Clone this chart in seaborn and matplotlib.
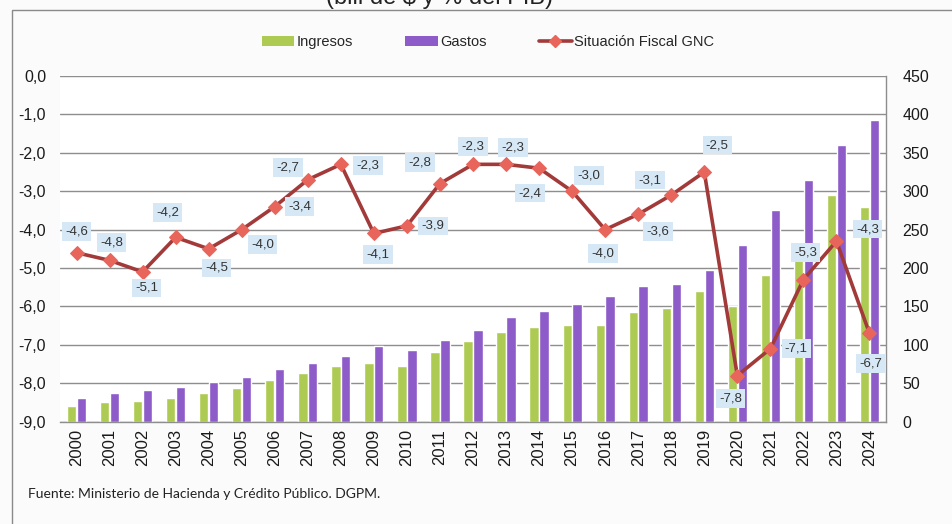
import numpy as np
import pandas as pd
import matplotlib
matplotlib.use("Agg")
import matplotlib.pyplot as plt
import seaborn as sns
from matplotlib import font_manager
from matplotlib.lines import Line2D
from matplotlib.patches import Patch, Rectangle

# ---------------- data ----------------
years = ["2000", "2001", "2002", "2003", "2004", "2005", "2006", "2007", "2008",
         "2009", "2010", "2011", "2012", "2013", "2014", "2015", "2016", "2017",
         "2018", "2019", "2020", "2021", "2022", "2023", "2024"]
ingresos = [21, 25, 27, 31, 37, 44, 54, 63, 73, 76, 73, 91, 105, 117, 123, 126,
            126, 143, 148, 170, 150, 191, 210, 295, 280]
gastos = [31, 38, 41, 45, 52, 58, 68, 76, 86, 98, 93, 106, 119, 136, 144, 153,
          163, 177, 179, 197, 230, 275, 314, 360, 393]
situacion = [-4.6, -4.8, -5.1, -4.2, -4.5, -4.0, -3.4, -2.7, -2.3, -4.1, -3.9,
             -2.8, -2.3, -2.3, -2.4, -3.0, -4.0, -3.6, -3.1, -2.5, -7.8, -7.1,
             -5.3, -4.3, -6.7]
left_ticks = [0.0, -1.0, -2.0, -3.0, -4.0, -5.0, -6.0, -7.0, -8.0, -9.0]
right_ticks = [0, 50, 100, 150, 200, 250, 300, 350, 400, 450]
series_names = ["Ingresos", "Gastos", "Situación Fiscal GNC"]
title = "(bill de $ y % del PIB)"
source = "Fuente: Ministerio de Hacienda y Crédito Público. DGPM."

# label placement (pixel offsets from each point, screen y downward)
label_offsets = [(0, -21), (2, -18), (4, 16), (-8, -25), (8, 19), (21, 15),
                 (25, 0), (-20, -12), (27, 1), (4, 21), (26, 0), (-20, -21),
                 (0, -18), (7, -17), (-9, 25), (17, -16), (-2, 24), (20, 17),
                 (-21, -15), (13, -27), (-7, 23), (26, 0), (2, -27), (31, -12),
                 (1, 30)]

GREEN = "#adcb52"
PURPLE = "#8d5cc8"
LINE = "#a23a3a"
MARK = "#e8655c"
GRID = "#8e8e8e"

sns.set_theme(style="white")
plt.rcParams["font.family"] = ["Liberation Sans", "DejaVu Sans"]

names = {f.name for f in font_manager.fontManager.ttflist}
if "Liberation Sans Narrow" in names:
    legend_font = dict(family=["Liberation Sans Narrow", "DejaVu Sans"], size=12.5)
else:
    legend_font = dict(family=["Liberation Sans", "DejaVu Sans"], size=10.5)

W, H = 952, 524
fig = plt.figure(figsize=(W / 100, H / 100), dpi=100, facecolor="#fbfbfb")
ax = fig.add_axes([60 / W, 1 - 421.7 / H, (886 - 60) / W, (421.7 - 76) / H])
ax.set_facecolor("white")

df = pd.DataFrame({
    "Año": years * 2,
    "valor": ingresos + gastos,
    "serie": [series_names[0]] * len(years) + [series_names[1]] * len(years),
})
sns.barplot(data=df, x="Año", y="valor", hue="serie",
            palette={series_names[0]: GREEN, series_names[1]: PURPLE},
            width=0.6, gap=0.06, saturation=1, ax=ax, legend=False)

ax2 = ax.twinx()
sns.lineplot(x=np.arange(len(years)), y=situacion, ax=ax2, color=LINE,
             linewidth=2.6, marker="D", markersize=7, markerfacecolor=MARK,
             markeredgecolor=MARK, zorder=4)

# axes setup
ax.set_ylim(0, 450)
ax.set_xlim(-0.5, len(years) - 0.5)
ax.yaxis.tick_right()
ax.set_yticks(right_ticks)
ax.set_yticklabels([str(t) for t in right_ticks])
ax.tick_params(axis="y", length=0, pad=12, labelsize=11.5, labelcolor="#1a1a1a")
ax.tick_params(axis="x", length=0, pad=5, labelsize=12, labelcolor="#1a1a1a")
ax.set_xticks(range(len(years)))
ax.set_xticklabels(years, rotation=90)
ax.set_xlabel("")
ax.set_ylabel("")
ax.grid(axis="y", color=GRID, linewidth=1)
ax.set_axisbelow(True)
for s in ["left", "top"]:
    ax.spines[s].set_visible(False)
for s in ["right", "bottom"]:
    ax.spines[s].set_visible(True)
    ax.spines[s].set_color(GRID)
    ax.spines[s].set_linewidth(1)

ax2.set_ylim(-9, 0)
ax2.set_xlim(-0.5, len(years) - 0.5)
ax2.yaxis.tick_left()
ax2.set_yticks(left_ticks)
ax2.set_yticklabels([f"{t:.1f}".replace(".", ",") for t in left_ticks])
ax2.tick_params(axis="y", length=0, pad=10, labelsize=11.5, labelcolor="#1a1a1a")
ax2.set_ylabel("")
ax2.set_xlabel("")
for s in ax2.spines.values():
    s.set_visible(False)

for i, (v, (dx, dy)) in enumerate(zip(situacion, label_offsets)):
    ax2.annotate(f"{v:.1f}".replace(".", ","), (i, v), xytext=(dx, -dy),
                 textcoords="offset pixels", ha="center", va="center",
                 fontsize=9.5, color="#333333", zorder=6,
                 bbox=dict(boxstyle="square,pad=0.25", fc="#d6e8f6", ec="none"))

# legend
handles = [Patch(fc=GREEN, ec="none"), Patch(fc=PURPLE, ec="none"),
           Line2D([], [], color=LINE, lw=2.6, marker="D", ms=6, mfc=MARK, mec=MARK)]
fig.legend(handles, series_names, loc="center", bbox_to_anchor=(488 / W, 1 - 42 / H),
           ncol=3, frameon=False, handlelength=2.2, handleheight=0.7,
           columnspacing=3.6, handletextpad=0.2, prop=legend_font)

# title (clipped at top as in the reference) and source
fig.text(440 / W, 1 - 9 / H, title, ha="center", va="bottom", fontsize=17, color="#222222")
fig.text(28 / W, 1 - 494 / H, source, ha="left", va="center", fontsize=10,
         family=["Lato", "DejaVu Sans"], color="#222222")

# outer frame
fig.add_artist(Rectangle((12 / W, -0.05), 1.1, 1 - 10 / H + 0.05,
                         transform=fig.transFigure, fill=False, ec="#8a8a8a", lw=1))

fig.savefig("out.png", dpi=100, facecolor=fig.get_facecolor())
